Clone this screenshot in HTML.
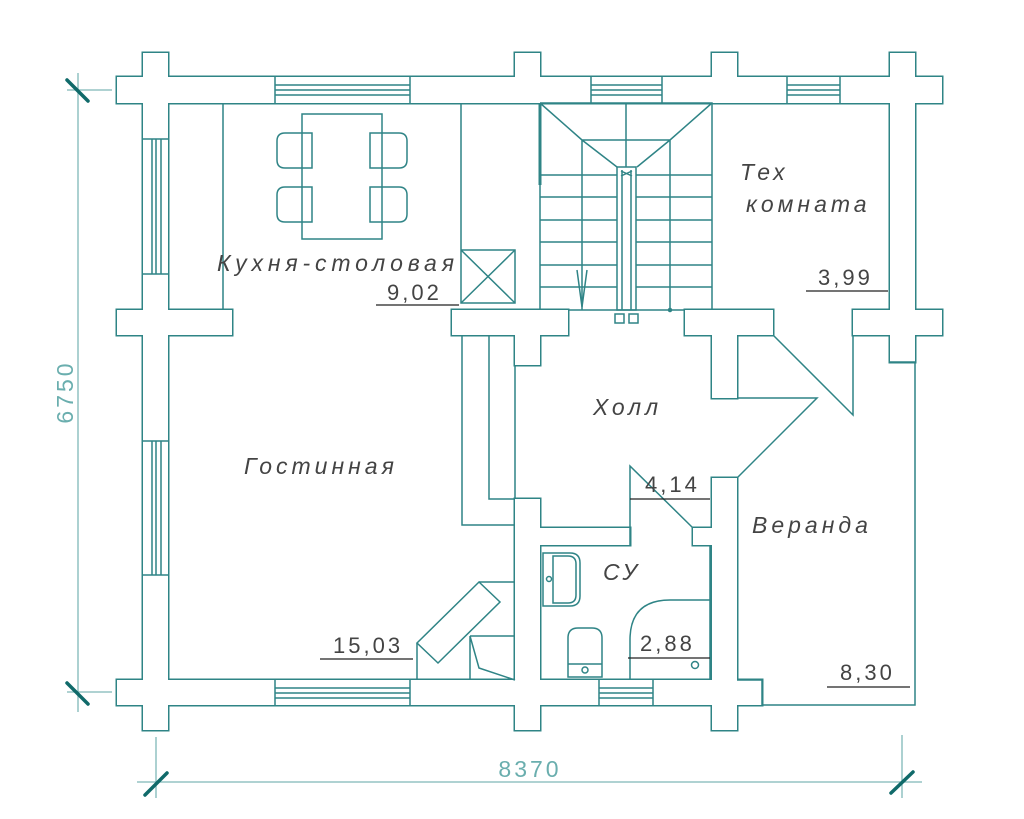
<!DOCTYPE html>
<html><head><meta charset="utf-8"><style>
html,body{margin:0;padding:0;background:#fff}
svg{display:block}
.t{font-family:"Liberation Sans",sans-serif;font-style:italic;fill:#444;font-size:23px;letter-spacing:4px}
.n{font-family:"Liberation Sans",sans-serif;fill:#444;font-size:22px;letter-spacing:3px}
</style></head><body>
<svg width="1024" height="819" viewBox="0 0 1024 819" xmlns="http://www.w3.org/2000/svg">
<rect width="1024" height="819" fill="#fff"/>
<g id="walls">
<g stroke="#2f8486" stroke-width="3" fill="#fff">
<rect x="117" y="77" width="825" height="26"/>
<rect x="143" y="53" width="25" height="677"/>
<rect x="515" y="53" width="25" height="50"/>
<rect x="712" y="53" width="25" height="50"/>
<rect x="890" y="53" width="25" height="309"/>
<rect x="117" y="310" width="115" height="25"/>
<rect x="452" y="310" width="116" height="25"/>
<rect x="685" y="310" width="88" height="25"/>
<rect x="853" y="310" width="89" height="25"/>
<rect x="515" y="310" width="25" height="55"/>
<rect x="712" y="310" width="25" height="88"/>
<rect x="515" y="499" width="25" height="231"/>
<rect x="712" y="478" width="25" height="252"/>
<rect x="117" y="680" width="645" height="25"/>
<rect x="540" y="528" width="90" height="17"/>
<rect x="693" y="528" width="19" height="17"/>
</g>
<g fill="#fff">
<rect x="117" y="77" width="825" height="26"/>
<rect x="143" y="53" width="25" height="677"/>
<rect x="515" y="53" width="25" height="50"/>
<rect x="712" y="53" width="25" height="50"/>
<rect x="890" y="53" width="25" height="309"/>
<rect x="117" y="310" width="115" height="25"/>
<rect x="452" y="310" width="116" height="25"/>
<rect x="685" y="310" width="88" height="25"/>
<rect x="853" y="310" width="89" height="25"/>
<rect x="515" y="310" width="25" height="55"/>
<rect x="712" y="310" width="25" height="88"/>
<rect x="515" y="499" width="25" height="231"/>
<rect x="712" y="478" width="25" height="252"/>
<rect x="117" y="680" width="645" height="25"/>
<rect x="540" y="528" width="90" height="17"/>
<rect x="693" y="528" width="19" height="17"/>
</g>
</g>
<g stroke="#2f8486" stroke-width="1.5" fill="none">
<line x1="515" y1="365" x2="515" y2="499"/>
<line x1="568" y1="310" x2="685" y2="310"/>
<path d="M275 77V103M410 77V103M275 85H410M275 90H410M275 95H410"/>
<path d="M591 77V103M662 77V103M591 85H662M591 90H662M591 95H662"/>
<path d="M787 77V103M840 77V103M787 85H840M787 90H840M787 95H840"/>
<path d="M275 680V705M410 680V705M275 688H410M275 693H410M275 698H410"/>
<path d="M599 680V705M653 680V705M599 688H653M599 693H653M599 698H653"/>
<path d="M143 139H168M143 274H168M152 139V274M156 139V274M161 139V274"/>
<path d="M143 441H168M143 575H168M152 441V575M156 441V575M161 441V575"/>
<line x1="223" y1="103" x2="223" y2="310"/>
<path d="M461 103V250H515M461 250H515V303H461Z"/>
<path d="M461 250L515 303M515 250L461 303"/>
<rect x="302" y="114" width="80" height="125"/>
<path d="M312 133H285Q277 133 277 141V160Q277 168 285 168H312Z"/>
<path d="M312 187H285Q277 187 277 195V214Q277 222 285 222H312Z"/>
<path d="M370 133H399Q407 133 407 141V160Q407 168 399 168H370Z"/>
<path d="M370 187H399Q407 187 407 195V214Q407 222 399 222H370Z"/>
<path d="M540 103H712V310M540 103V310"/>
<line x1="540" y1="103" x2="540" y2="185" stroke-width="3"/>
<path d="M540 103L582 140L617 167M712 103L670 140L637 167M582 140H670M582 140V310M670 140V310M626 103V167"/>
<path d="M540 175H617M636 175H712M540 197H617M636 197H712M540 220H617M636 220H712M540 242H617M636 242H712M540 265H617M636 265H712M540 287H617M636 287H712"/>
<rect x="617" y="167" width="19" height="143"/>
<path d="M622 170V310M631 170V310M621 171L632 176M632 171L621 176"/>
<rect x="615" y="314" width="9" height="9"/>
<rect x="629" y="314" width="9" height="9"/>
<path d="M577 270L582 307L587 270"/>
<circle cx="670" cy="310" r="1.5" fill="#2f8486"/>
<path d="M773 335L853 415V335"/>
<path d="M737 398H817L737 478"/>
<path d="M737 680H762V705H915V362H890"/>
<path d="M489 335V499H515M462 335V525H515"/>
<path d="M630 528V466L693 528M630 545V528"/>
<line x1="710" y1="545" x2="710" y2="680"/>
<path d="M543 553H570Q580 553 580 563V596Q580 606 570 606H543Z"/>
<path d="M553 556H568Q576 556 576 564V595Q576 603 568 603H553Z"/>
<circle cx="549" cy="579" r="2.5"/>
<path d="M568 677V638Q568 628 578 628H592Q602 628 602 638V677ZM568 664H602"/>
<circle cx="585" cy="670" r="3"/>
<path d="M630 680V640Q630 600 670 600H710"/>
<circle cx="695" cy="665" r="3.5"/>
<path d="M417 643L479 582L500 602L438 663Z"/>
<path d="M479 582H515M470 636H515M470 636V680M417 643V680M470 636L479 668L515 680"/>
</g>
<g stroke="#222" stroke-width="1.3">
<line x1="376" y1="305" x2="459" y2="305"/>
<line x1="806" y1="291" x2="888" y2="291"/>
<line x1="320" y1="659" x2="413" y2="659"/>
<line x1="630" y1="499" x2="710" y2="499"/>
<line x1="628" y1="658" x2="710" y2="658"/>
<line x1="827" y1="687" x2="910" y2="687"/>
</g>
<g stroke="#7fb8b8" stroke-width="1.3">
<line x1="78" y1="73" x2="78" y2="712"/>
<line x1="67" y1="90" x2="112" y2="90"/>
<line x1="67" y1="692" x2="112" y2="692"/>
<line x1="137" y1="782" x2="922" y2="782"/>
<line x1="156" y1="737" x2="156" y2="798"/>
<line x1="902" y1="735" x2="902" y2="798"/>
</g>
<g stroke="#106a6a" stroke-width="3.5" stroke-linecap="round">
<line x1="67" y1="80" x2="88" y2="101"/>
<line x1="67" y1="683" x2="88" y2="704"/>
<line x1="145" y1="795" x2="167" y2="773"/>
<line x1="891" y1="793" x2="913" y2="772"/>
</g>
<text x="530" y="777" text-anchor="middle" font-family="Liberation Sans,sans-serif" font-size="23" letter-spacing="3" fill="#6aaeae">8370</text>
<text transform="translate(73 392) rotate(-90)" text-anchor="middle" font-family="Liberation Sans,sans-serif" font-size="23" letter-spacing="3" fill="#6aaeae">6750</text>
<text class="t" x="217" y="271" textLength="241" lengthAdjust="spacing">Кухня-столовая</text>
<text class="n" x="387" y="300">9,02</text>
<text class="t" x="740" y="180">Тех</text>
<text class="t" x="746" y="212">комната</text>
<text class="n" x="818" y="285">3,99</text>
<text class="t" x="593" y="415">Холл</text>
<text class="t" x="244" y="474">Гостинная</text>
<text class="n" x="333" y="653">15,03</text>
<text class="n" x="645" y="492">4,14</text>
<text class="t" x="603" y="580">СУ</text>
<text class="n" x="640" y="651">2,88</text>
<text class="t" x="752" y="533">Веранда</text>
<text class="n" x="840" y="680">8,30</text>
</svg>
</body></html>
